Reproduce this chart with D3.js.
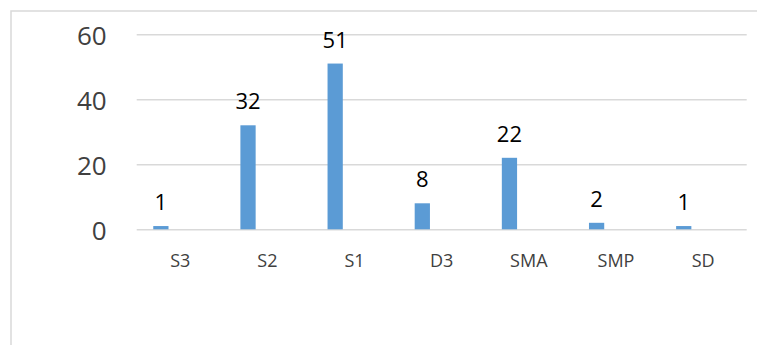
<!DOCTYPE html>
<html>
<head>
<meta charset="utf-8">
<script src="https://cdn.jsdelivr.net/npm/d3@7"></script>
<style>
  body { margin: 0; background: #fff; }
  svg { display: block; font-family: "Open Sans", "Liberation Sans", sans-serif; }
</style>
</head>
<body>
<div id="chart"></div>
<script>
const categories = ["S3", "S2", "S1", "D3", "SMA", "SMP", "SD"];
const values = [1, 32, 51, 8, 22, 2, 1];
const yTicks = [0, 20, 40, 60];

const W = 757, H = 345;
const plot = { left: 136.7, right: 746.7, top: 34.3, bottom: 229.3 };

const svg = d3.select("#chart")
    .append("svg")
    .attr("width", W)
    .attr("height", H);

// chart frame (only top and left edges are inside the picture)
svg.append("path")
    .attr("d", `M11,${H} L11,11 L${W},11`)
    .attr("fill", "none")
    .attr("stroke", "#d9d9d9")
    .attr("stroke-width", 1.5);

const x = d3.scaleBand()
    .domain(categories)
    .range([plot.left, plot.right]);

const y = d3.scaleLinear()
    .domain([0, 60])
    .range([plot.bottom, plot.top]);

// y axis with gridlines
const yAxis = svg.append("g")
    .attr("transform", `translate(${plot.left},0)`)
    .call(d3.axisLeft(y).tickValues(yTicks).tickSize(-(plot.right - plot.left)).tickPadding(30));
yAxis.select(".domain").remove();
yAxis.selectAll(".tick line")
    .attr("stroke", "#d9d9d9")
    .attr("stroke-width", 1.5);
yAxis.selectAll(".tick text")
    .attr("fill", "#404040")
    .attr("dy", "0.4em")
    .style("font-size", "26px")
    .style("font-family", "'Open Sans', sans-serif");

// x axis labels
const xAxis = svg.append("g")
    .attr("transform", `translate(0,${plot.bottom})`)
    .call(d3.axisBottom(x).tickSize(0).tickPadding(0));
xAxis.select(".domain").remove();
xAxis.selectAll(".tick text")
    .attr("y", 31)
    .attr("dy", "0.36em")
    .attr("fill", "#404040")
    .style("font-size", "18px")
    .style("font-family", "'Open Sans', sans-serif");

// bars sit left of category centre (first series slot of the group)
const barOffset = x.bandwidth() * 0.19;
const barWidth = x.bandwidth() * 0.175;

svg.selectAll(".bar")
    .data(values)
    .enter()
    .append("rect")
    .attr("class", "bar")
    .attr("x", (d, i) => x(categories[i]) + barOffset)
    .attr("y", d => y(d))
    .attr("width", barWidth)
    .attr("height", d => y(0) - y(d))
    .attr("fill", "#5b9bd5");

svg.selectAll(".label")
    .data(values)
    .enter()
    .append("text")
    .attr("class", "label")
    .attr("x", (d, i) => x(categories[i]) + barOffset + barWidth / 2)
    .attr("y", d => y(d) - 16)
    .attr("text-anchor", "middle")
    .attr("fill", "#000")
    .style("font-size", "22px")
    .text(d => d);
</script>
</body>
</html>
